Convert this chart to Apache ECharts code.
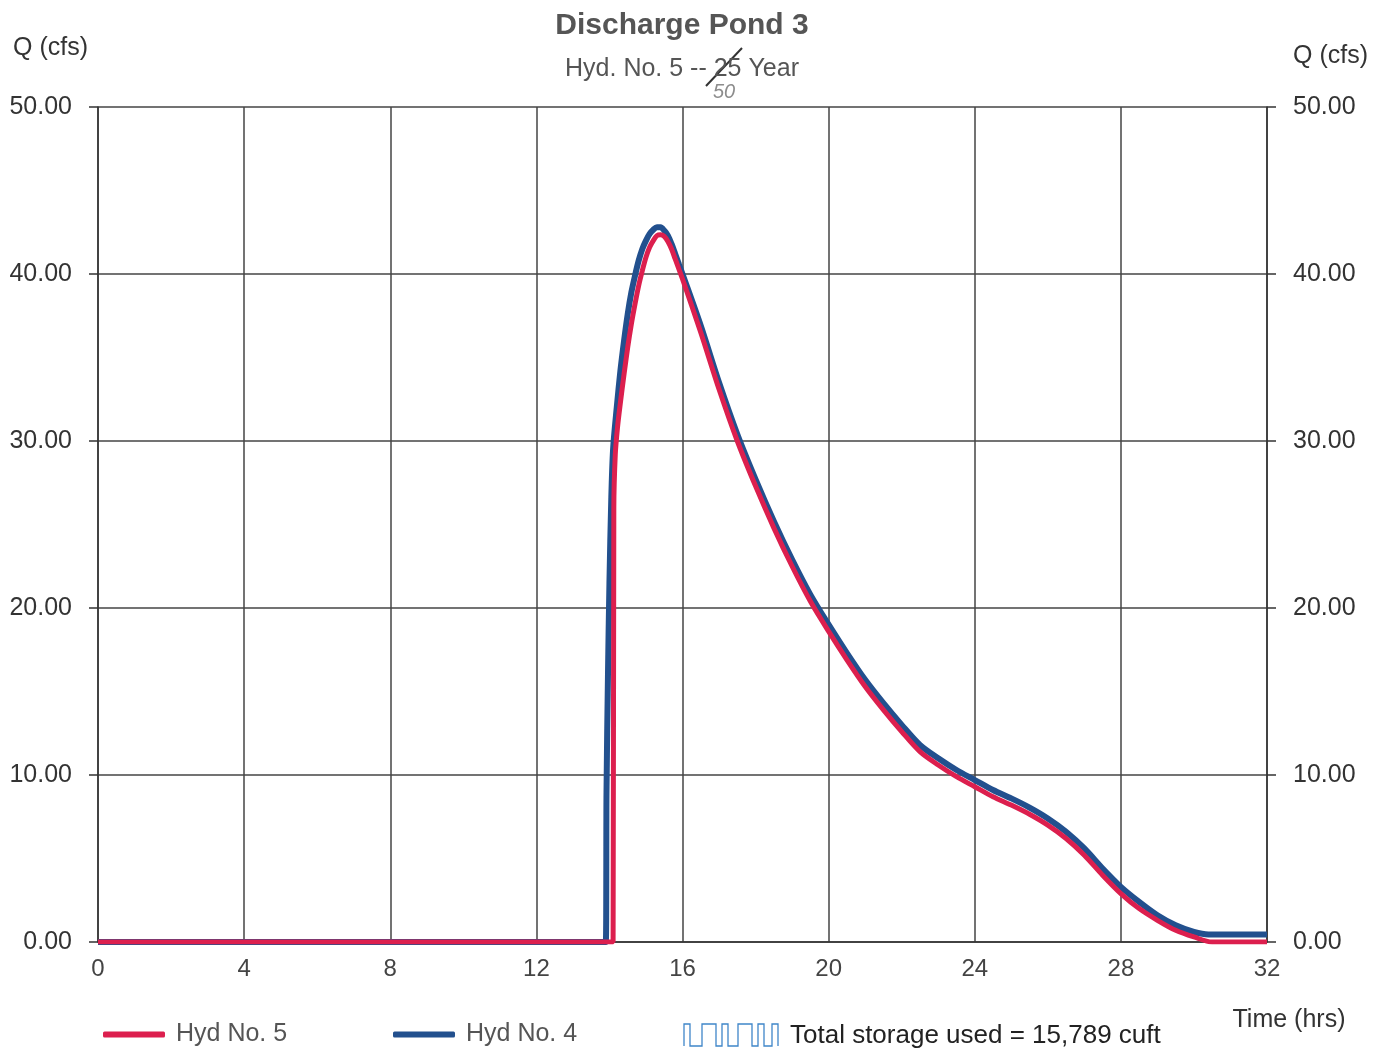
<!DOCTYPE html>
<html><head><meta charset="utf-8">
<script src="https://cdn.jsdelivr.net/npm/echarts@6/dist/echarts.min.js"></script>
<style>html,body{margin:0;padding:0;background:#fff}#c{width:1387px;height:1051px}</style>
</head><body><div id="c"></div>
<script>
// Hyd No. 5 (red) — time (hrs), Q (cfs)
const hyd5Time = [0, 13.9, 14.1, 14.12, 14.16, 14.22, 14.3, 14.4, 14.5, 14.6, 14.7, 14.8, 14.9, 15.0, 15.1, 15.2, 15.3, 15.4, 15.5, 15.6, 15.7, 15.8, 15.9, 16.0, 16.5, 17.0, 17.5, 18.0, 18.5, 19.0, 19.5, 20.0, 20.5, 21.0, 21.5, 22.0, 22.5, 23.0, 23.5, 24.0, 24.5, 25.0, 25.5, 26.0, 26.5, 27.0, 27.5, 28.0, 28.5, 29.0, 29.5, 30.0, 30.5, 32.0];
const hyd5Q    = [0, 0, 0, 26, 29.2, 30.8, 32.3, 34.0, 35.6, 37.0, 38.2, 39.3, 40.2, 41.0, 41.6, 42.0, 42.3, 42.35, 42.25, 41.95, 41.5, 40.9, 40.3, 39.7, 36.5, 33.1, 30.0, 27.3, 24.8, 22.5, 20.4, 18.6, 16.9, 15.3, 13.9, 12.6, 11.4, 10.6, 9.9, 9.3, 8.7, 8.2, 7.65, 7.0, 6.2, 5.2, 4.0, 2.9, 2.0, 1.3, 0.7, 0.3, 0.0, 0.0];
// Hyd No. 4 (blue)
const hyd4Time = [0, 13.7, 13.9, 13.92, 13.96, 14.0, 14.05, 14.1, 14.2, 14.3, 14.4, 14.5, 14.6, 14.7, 14.8, 14.9, 15.0, 15.1, 15.2, 15.3, 15.4, 15.5, 15.6, 15.7, 15.8, 15.9, 16.0, 16.5, 17.0, 17.5, 18.0, 18.5, 19.0, 19.5, 20.0, 20.5, 21.0, 21.5, 22.0, 22.5, 23.0, 23.5, 24.0, 24.5, 25.0, 25.5, 26.0, 26.5, 27.0, 27.5, 28.0, 28.5, 29.0, 29.5, 30.0, 30.4, 32.0];
const hyd4Q    = [0, 0, 0, 9, 16, 21.5, 26.5, 29.5, 32.0, 34.2, 36.0, 37.6, 38.9, 39.9, 40.8, 41.5, 42.0, 42.4, 42.65, 42.8, 42.8, 42.6, 42.3, 41.8, 41.2, 40.6, 40.0, 36.9, 33.5, 30.4, 27.7, 25.2, 22.9, 20.8, 19.0, 17.3, 15.7, 14.3, 13.0, 11.8, 11.0, 10.3, 9.7, 9.1, 8.6, 8.05, 7.4, 6.6, 5.6, 4.4, 3.3, 2.4, 1.6, 1.0, 0.6, 0.45, 0.45];

const titleText = 'Discharge Pond 3';
const subtitleText = 'Hyd. No. 5 -- 25 Year';
const storageText = 'Total storage used = 15,789 cuft';

const FONT = '"Liberation Sans", Arial, sans-serif';
const chart = echarts.init(document.getElementById('c'));

const zip = (t, q) => t.map((v, i) => [v, q[i]]);

const yAxisBase = {
  type: 'value', min: 0, max: 50, interval: 10,
  axisLine: { show: true, lineStyle: { color: '#333', width: 1.5 } },
  axisTick: { show: true, length: 9, lineStyle: { color: '#333', width: 1.5 } },
  axisLabel: { margin: 26, fontSize: 25, color: '#333', fontFamily: FONT, formatter: v => v.toFixed(2) }
};

chart.setOption({
  backgroundColor: '#fff',
  animation: false,
  title: {
    text: titleText, subtext: subtitleText, left: 677, textAlign: 'center', top: 6, itemGap: 16,
    textStyle: { fontSize: 30, fontWeight: 'bold', color: '#555', fontFamily: FONT },
    subtextStyle: { fontSize: 25, color: '#555', fontFamily: FONT }
  },
  grid: { left: 98, right: 120, top: 107, bottom: 109, containLabel: false },
  xAxis: {
    type: 'value', min: 0, max: 32, interval: 4,
    axisLine: { show: true, onZero: false, lineStyle: { color: '#333', width: 1.5 } },
    axisTick: { show: false },
    axisLabel: { margin: 15, fontSize: 24, color: '#444', fontFamily: FONT },
    splitLine: { show: true, lineStyle: { color: '#444', width: 1.5 } },
    name: 'Time (hrs)', nameLocation: 'end', nameGap: 22,
    nameTextStyle: { fontSize: 25, color: '#333', fontFamily: FONT, align: 'center', verticalAlign: 'top', padding: [66, 0, 0, 0] }
  },
  yAxis: [
    Object.assign({}, yAxisBase, {
      position: 'left', name: 'Q (cfs)', nameLocation: 'end', nameGap: 46,
      splitLine: { show: true, lineStyle: { color: '#444', width: 1.5 } },
      nameTextStyle: { fontSize: 25, color: '#333', fontFamily: FONT, align: 'right', padding: [0, 10, 0, 0] }
    }),
    Object.assign({}, yAxisBase, {
      position: 'right', name: 'Q (cfs)', nameLocation: 'end', nameGap: 38,
      splitLine: { show: false },
      nameTextStyle: { fontSize: 25, color: '#333', fontFamily: FONT, align: 'left', padding: [0, 0, 0, 26] }
    })
  ],
  legend: [
    { left: 98, top: 1017, data: ['Hyd No. 5'], icon: 'roundRect', itemWidth: 62, itemHeight: 6,
      textStyle: { fontSize: 25, color: '#555', fontFamily: FONT, padding: [0, 0, 0, 6] } },
    { left: 388, top: 1017, data: ['Hyd No. 4'], icon: 'roundRect', itemWidth: 62, itemHeight: 6,
      textStyle: { fontSize: 25, color: '#555', fontFamily: FONT, padding: [0, 0, 0, 6] } }
  ],
  graphic: [
    // square-wave storage icon
    { type: 'polyline', shape: { points: [[684,1046],[684,1024],[690,1024],[690,1046],[702,1046],[702,1024],[716,1024],[716,1046],[722,1046],[722,1024],[728,1024],[728,1046],[738,1046],[738,1024],[752,1024],[752,1046],[758,1046],[758,1024],[764,1024],[764,1046],[772,1046],[772,1024],[778,1024],[778,1046]] },
      style: { stroke: '#3f86c9', lineWidth: 1.3, fill: null } },
    { type: 'text', left: 790, top: 1023, style: { text: storageText, fontSize: 26, fill: '#222', fontFamily: FONT } },
    // handwritten correction on "25"
    { type: 'line', shape: { x1: 706, y1: 86, x2: 742, y2: 48 }, style: { stroke: '#333', lineWidth: 2 } },
    { type: 'text', left: 713, top: 82, style: { text: '50', fontSize: 20, fontStyle: 'italic', fill: '#8c8c8c', fontFamily: FONT } }
  ],
  series: [
    { name: 'Hyd No. 4', type: 'line', data: zip(hyd4Time, hyd4Q), showSymbol: false, smooth: 0.3,
      lineStyle: { color: '#22508e', width: 6 }, itemStyle: { color: '#22508e' }, z: 3 },
    { name: 'Hyd No. 5', type: 'line', data: zip(hyd5Time, hyd5Q), showSymbol: false, smooth: 0.3,
      lineStyle: { color: '#dc1f4e', width: 5 }, itemStyle: { color: '#dc1f4e' }, z: 4 }
  ]
});
</script></body></html>
